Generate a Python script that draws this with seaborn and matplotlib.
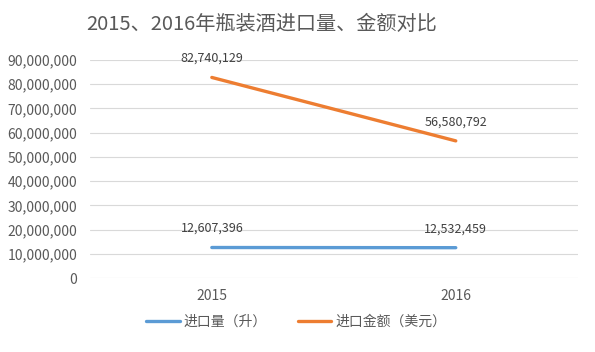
import pandas as pd
import matplotlib
matplotlib.use('Agg')
import matplotlib.pyplot as plt
import seaborn as sns

years = ['2015', '2016']
volume = [12607396, 12532459]      # 进口量（升）
value = [82740129, 56580792]       # 进口金额（美元）
series_names = ['进口量（升）', '进口金额（美元）']
colors = ['#5B9BD5', '#ED7D31']

df = pd.DataFrame({
    'idx': [0, 1, 0, 1],
    'year': years * 2,
    'amount': volume + value,
    'series': [series_names[0]] * 2 + [series_names[1]] * 2,
})

sns.set_theme(style="white")
plt.rcParams['font.family'] = ['Noto Sans CJK SC', 'DejaVu Sans']
text_color = '#595959'

fig = plt.figure(figsize=(5.95, 3.52), dpi=100)
ax = fig.add_axes([0.151, 0.21, 0.82, 0.62])

sns.lineplot(data=df, x='idx', y='amount', hue='series', palette=colors,
             linewidth=2.4, ax=ax, legend=True)

# data labels
for i, row in df.iterrows():
    ax.annotate(f"{row['amount']:,}", (row['idx'], row['amount']),
                xytext=(0, 9), textcoords='offset points', ha='center',
                va='bottom', fontsize=9, color='#404040')

ax.set_xlim(-0.5, 1.5)
ax.set_ylim(0, 90000000)
ax.set_yticks(range(0, 90000001, 10000000))
ax.set_yticklabels([f"{v:,}" for v in range(0, 90000001, 10000000)])
ax.set_xticks([0, 1])
ax.set_xticklabels(years)
ax.tick_params(axis='both', colors=text_color, labelsize=10, length=0)
ax.tick_params(axis='y', pad=9)
ax.tick_params(axis='x', pad=8)
ax.grid(axis='y', color='#D9D9D9', linewidth=0.8)
ax.set_axisbelow(True)
for s in ax.spines.values():
    s.set_visible(False)
ax.set_xlabel('')
ax.set_ylabel('')

fig.suptitle('2015、2016年瓶装酒进口量、金额对比', x=0.44, y=0.96,
             fontsize=14.5, color=text_color)

handles, labels = ax.get_legend_handles_labels()
ax.legend(handles, labels, loc='center', bbox_to_anchor=(0.498, 0.085),
          bbox_transform=fig.transFigure, ncol=2, frameon=False,
          fontsize=10, labelcolor=text_color, handlelength=2.4,
          columnspacing=2.2, handletextpad=0.3)

fig.savefig('out.png', dpi=100)
